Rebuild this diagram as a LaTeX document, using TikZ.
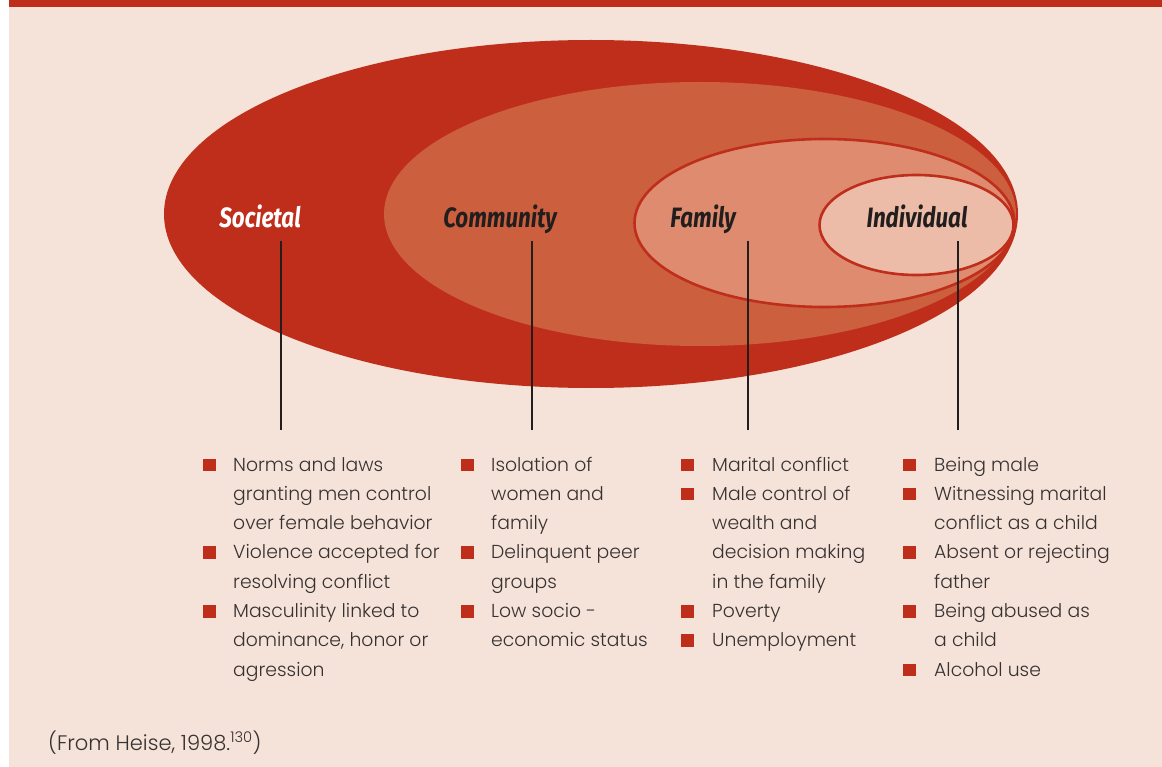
\documentclass[tikz,border=0pt]{standalone}
\usepackage{fontspec}
\newfontfamily\bodyfont{Poppins Light}
\newfontfamily\labelfont{Fira Sans}
\definecolor{pagebg}{RGB}{245,226,216}
\definecolor{deepred}{RGB}{191,46,27}
\definecolor{commc}{RGB}{204,95,61}
\definecolor{famc}{RGB}{222,139,111}
\definecolor{indc}{RGB}{237,188,168}
\definecolor{ink}{RGB}{55,50,50}
\definecolor{stemc}{RGB}{35,30,30}
\begin{document}
\begin{tikzpicture}[x=1pt,y=-1pt,
  bodytxt/.style={inner sep=0pt, text=ink, font=\bodyfont\fontsize{18.8}{24}\selectfont},
  foottxt/.style={inner sep=0pt, text=ink, font=\bodyfont\fontsize{21}{24}\selectfont},
  lvl/.style={inner sep=0pt, font=\labelfont\bfseries\itshape\fontsize{28}{32}\selectfont},
  stem/.style={draw=stemc, line width=1.8pt},
  bul/.style={fill=deepred},
  ring/.style={draw=deepred, line width=2.6pt}]
\useasboundingbox (0,0) rectangle (1162,767);
\fill[white] (0,0) rectangle (1162,767);
\fill[pagebg] (9,0) rectangle (1162,767);
\fill[deepred] (9,0) rectangle (1162,7);
% ellipses
\fill[deepred] (591,214) ellipse [x radius=427pt, y radius=174pt];
\fill[commc] (700,214) ellipse [x radius=316pt, y radius=132pt];
\filldraw[fill=famc, ring] (824.5,223) ellipse [x radius=190pt, y radius=84pt];
\filldraw[fill=indc, ring] (916.5,225) ellipse [x radius=97pt, y radius=50pt];
% labels
\node[lvl, text=white, anchor=base] (soc) at (260,228) {\scalebox{0.8}[1]{Societal}};
\node[lvl, text=stemc, anchor=base] (com) at (500,228) {\scalebox{0.8}[1]{Community}};
\node[lvl, text=stemc, anchor=base] (fam) at (703,228) {\scalebox{0.8}[1]{Family}};
\node[lvl, text=stemc, anchor=base] (ind) at (917,228) {\scalebox{0.8}[1]{Individual}};
% stems
\coordinate (soc-top) at (281,241); \coordinate (soc-bot) at (281,430);
\coordinate (com-top) at (532,241); \coordinate (com-bot) at (532,430);
\coordinate (fam-top) at (748,241); \coordinate (fam-bot) at (748,430);
\coordinate (ind-top) at (958,241); \coordinate (ind-bot) at (958,430);
\draw[stem] (soc-top) -- (soc-bot);
\draw[stem] (com-top) -- (com-bot);
\draw[stem] (fam-top) -- (fam-bot);
\draw[stem] (ind-top) -- (ind-bot);
% lists
\foreach \i/\b/\t in {0/1/Norms and laws, 1/0/granting men control, 2/0/over female behavior,
  3/1/Violence accepted for, 4/0/resolving conflict, 5/1/Masculinity linked to,
  6/0/{dominance, honor or}, 7/0/agression} {
  \node[bodytxt, anchor=base west] (socl-\i) at (233,{471+29.3*\i}) {\t};
  \ifnum\b=1 \fill[bul] (203,{458.5+29.3*\i}) rectangle ++(12.5,12.5); \fi
}
\foreach \i/\b/\t in {0/1/Isolation of, 1/0/women and, 2/0/family,
  3/1/Delinquent peer, 4/0/groups, 5/1/Low socio -, 6/0/economic status} {
  \node[bodytxt, anchor=base west] (coml-\i) at (491,{471+29.3*\i}) {\t};
  \ifnum\b=1 \fill[bul] (461,{458.5+29.3*\i}) rectangle ++(12.5,12.5); \fi
}
\foreach \i/\b/\t in {0/1/Marital conflict, 1/1/Male control of, 2/0/wealth and,
  3/0/decision making, 4/0/in the family, 5/1/Poverty, 6/1/Unemployment} {
  \node[bodytxt, anchor=base west] (faml-\i) at (712,{471+29.3*\i}) {\t};
  \ifnum\b=1 \fill[bul] (681,{458.5+29.3*\i}) rectangle ++(12.5,12.5); \fi
}
\foreach \i/\b/\t in {0/1/Being male, 1/1/Witnessing marital, 2/0/conflict as a child,
  3/1/Absent or rejecting, 4/0/father, 5/1/Being abused as, 6/0/a child, 7/1/Alcohol use} {
  \node[bodytxt, anchor=base west] (indl-\i) at (934,{471+29.3*\i}) {\t};
  \ifnum\b=1 \fill[bul] (903,{458.5+29.3*\i}) rectangle ++(12.5,12.5); \fi
}
% source
\node[foottxt, anchor=base west] (src) at (48,750) {(From Heise, 1998.\textsuperscript{130})};
\end{tikzpicture}
\end{document}
